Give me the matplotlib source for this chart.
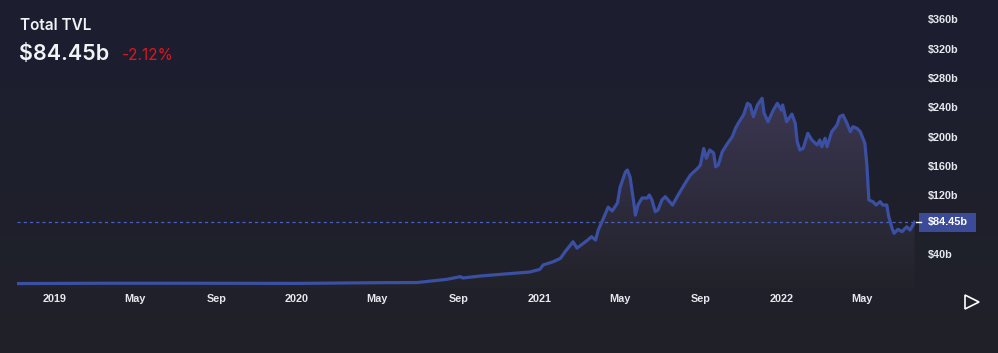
import matplotlib
matplotlib.use("Agg")
import matplotlib.pyplot as plt
import matplotlib.dates as mdates
from matplotlib.patches import Polygon
from matplotlib.lines import Line2D
import numpy as np
import pandas as pd

# Total TVL, billions of USD
dates = [
    "2018-11-05", "2019-03-10", "2019-08-08", "2020-01-01", "2020-05-05",
    "2020-06-30", "2020-08-14", "2020-09-03", "2020-09-07", "2020-10-03",
    "2020-11-22", "2020-12-17", "2021-01-01", "2021-01-06", "2021-01-21",
    "2021-02-01", "2021-02-08", "2021-02-20", "2021-02-26", "2021-03-14",
    "2021-03-20", "2021-03-26", "2021-03-30", "2021-04-07", "2021-04-14",
    "2021-04-20", "2021-04-28", "2021-05-02", "2021-05-10", "2021-05-13",
    "2021-05-17", "2021-05-22", "2021-05-25", "2021-05-29", "2021-06-04",
    "2021-06-12", "2021-06-15", "2021-06-19", "2021-06-24", "2021-06-28",
    "2021-07-04", "2021-07-09", "2021-07-20", "2021-07-27", "2021-08-08",
    "2021-08-16", "2021-08-27", "2021-08-31", "2021-09-05", "2021-09-09",
    "2021-09-14", "2021-09-20", "2021-09-23", "2021-09-27", "2021-10-03",
    "2021-10-11", "2021-10-18", "2021-10-23", "2021-10-27", "2021-11-04",
    "2021-11-10", "2021-11-14", "2021-11-19", "2021-11-25", "2021-12-02",
    "2021-12-05", "2021-12-11", "2021-12-19", "2021-12-25", "2021-12-31",
    "2022-01-02", "2022-01-08", "2022-01-16", "2022-01-21", "2022-01-24",
    "2022-01-28", "2022-02-02", "2022-02-09", "2022-02-15", "2022-02-23",
    "2022-02-27", "2022-03-02", "2022-03-07", "2022-03-10", "2022-03-17",
    "2022-03-25", "2022-03-29", "2022-04-03", "2022-04-09", "2022-04-14",
    "2022-04-18", "2022-04-24", "2022-04-29", "2022-05-03", "2022-05-06",
    "2022-05-09", "2022-05-12", "2022-05-18", "2022-05-23", "2022-05-29",
    "2022-06-02", "2022-06-08", "2022-06-11", "2022-06-16", "2022-06-19",
    "2022-06-25", "2022-07-01", "2022-07-08", "2022-07-13", "2022-07-20",
]
tvl = [
    0.6, 1.0, 1.0, 0.8, 1.8,
    2.0, 6.4, 10.0, 8.2, 10.9,
    14.6, 16.4, 20.0, 26.0, 30.4,
    35.0, 44.0, 57.7, 49.0, 60.0,
    64.6, 60.0, 73.7, 90.0, 105.0,
    99.6, 110.6, 132.0, 153.0, 155.6,
    146.0, 114.7, 94.0, 108.0, 117.4,
    117.4, 121.5, 114.7, 98.7, 101.0,
    114.7, 119.2, 107.8, 119.2, 137.5,
    148.8, 158.0, 162.5, 185.0, 171.6,
    183.0, 178.8, 160.0, 162.5, 180.6,
    192.0, 201.0, 212.6, 219.4, 230.7,
    246.7, 244.4, 228.4, 244.4, 253.5,
    233.4, 221.6, 237.5, 246.7, 237.5,
    244.4, 221.6, 232.0, 219.4, 194.3,
    183.0, 185.3, 205.7, 196.6, 189.8,
    196.6, 187.4, 199.0, 187.4, 208.0,
    217.0, 228.4, 230.7, 219.4, 208.0,
    214.7, 212.6, 208.0, 199.0, 192.0,
    162.5, 114.7, 112.4, 107.8, 112.4,
    107.8, 107.8, 92.0, 76.0, 69.2,
    74.7, 71.4, 78.2, 73.7, 84.45,
]
title = "Total TVL"
current_label = "$84.45b"
change_label = "-2.12%"
y_ticks = [40, 120, 160, 200, 240, 280, 320, 360]
x_ticks = ["2019-01-01", "2019-05-01", "2019-09-01", "2020-01-01", "2020-05-01",
           "2020-09-01", "2021-01-01", "2021-05-01", "2021-09-01", "2022-01-01",
           "2022-05-01"]
x_tick_labels = ["2019", "May", "Sep", "2020", "May", "Sep", "2021", "May",
                 "Sep", "2022", "May"]

W, H = 998, 353
fig = plt.figure(figsize=(W / 100, H / 100), dpi=100)

# figure background gradient
bg = fig.add_axes([0, 0, 1, 1])
bg.set_axis_off()
top = np.array([0x1c, 0x1e, 0x31]) / 255
bot = np.array([0x20, 0x21, 0x28]) / 255
t = np.linspace(0, 1, 256)[:, None]
grad = top[None, :] * (1 - t) + bot[None, :] * t
bg.imshow(grad[:, None, :], aspect="auto", extent=[0, 1, 0, 1])

# plot area in pixels: x 17..915, y 0..288 (value 0 at y=284)
px_per_b = 0.7325
ax = fig.add_axes([17 / W, (H - 288) / H, (915 - 17) / W, 288 / H])
ax.patch.set_alpha(0)
for s in ax.spines.values():
    s.set_visible(False)

d = pd.to_datetime(dates)
xn = mdates.date2num(d)
v = np.array(tvl)

x0 = mdates.date2num(pd.Timestamp("2019-01-01")) - 38 * 1.508
x1 = mdates.date2num(pd.Timestamp("2022-01-01")) + 133 * 1.508
y0 = -(288 - 284) / px_per_b
y1 = 284 / px_per_b

# gradient fill under the line
fill_top = np.array([0x3b, 0x37, 0x52]) / 255
fill_bot = np.array([0x22, 0x22, 0x2a]) / 255
tt = np.linspace(0, 1, 256)[:, None]
fg = fill_top[None, :] * (1 - tt) + fill_bot[None, :] * tt
vmax = v.max()
im = ax.imshow(fg[:, None, :], aspect="auto", extent=[x0, x1, y0, vmax],
               zorder=1)
poly = Polygon(np.column_stack([np.r_[xn[0], xn, xn[-1]], np.r_[y0, v, y0]]),
               closed=True, transform=ax.transData, facecolor="none",
               edgecolor="none")
ax.add_patch(poly)
im.set_clip_path(poly)
ax.set_xlim(x0, x1)
ax.set_ylim(y0, y1)

line_color = "#3b4fa3"
ax.plot(xn, v, color=line_color, lw=2.3, zorder=3, solid_joinstyle="round")
ax.axhline(v[-1], color="#4a5fc0", lw=0.9, ls=(0, (2.5, 2.5)), zorder=2)

ax.set_xticks([])
ax.set_yticks([])

fnt = "Liberation Sans"
# x labels
for tk, lab in zip(x_ticks, x_tick_labels):
    xv = mdates.date2num(pd.Timestamp(tk))
    ax.text(xv, -15 / px_per_b, lab, ha="center", va="center", color="#e6e8ee",
            fontsize=7.8, fontweight="bold", family=fnt, clip_on=False)

# right price axis labels
for yt in y_ticks:
    fig.text(928 / W, (H - (284 - yt * px_per_b)) / H, f"${yt}b", ha="left",
             va="center", color="#e6e8ee", fontsize=7.8, fontweight="bold",
             family=fnt)

# current price label
yc = H - (284 - v[-1] * px_per_b)
fig.add_artist(plt.Rectangle((919 / W, (yc - 9.5) / H), 57 / W, 19 / H,
                             transform=fig.transFigure, color="#3c4b97", lw=0))
fig.add_artist(Line2D([916 / W, 921 / W], [yc / H, yc / H], color="white",
                      lw=1, transform=fig.transFigure))
fig.text(947.5 / W, yc / H, current_label, ha="center", va="center",
         color="white", fontsize=7.8, fontweight="bold", family=fnt)

# header
fig.text(20 / W, (H - 25) / H, title, ha="left", va="center", color="#f2f3f6",
         fontsize=11, fontweight="semibold", family="Inter")
fig.text(19 / W, (H - 60) / H, current_label, ha="left", va="baseline",
         color="#f2f3f6", fontsize=15.5, fontweight="semibold", family="Inter")
fig.text(122 / W, (H - 60) / H, change_label, ha="left", va="baseline",
         color="#e3141e", fontsize=11, family="Inter")

# play button
fig.add_artist(Line2D([972 / W], [(H - 302) / H], marker=">", markersize=9.5,
                      markerfacecolor="none", markeredgecolor="white",
                      markeredgewidth=1.2, transform=fig.transFigure))

fig.savefig("out.png", dpi=100)
